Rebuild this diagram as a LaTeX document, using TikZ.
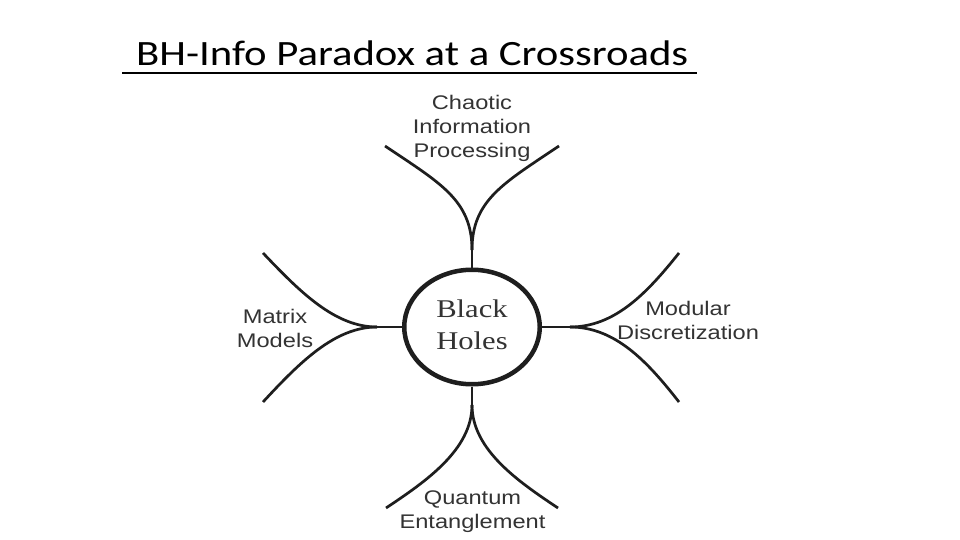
\documentclass[tikz,border=0pt]{standalone}
\usepackage{fontspec}
\setmainfont{Liberation Sans}
\newfontfamily\titlefont{Carlito}
\newfontfamily\serifbh{Liberation Serif}
\usetikzlibrary{shapes.geometric}
\definecolor{inkline}{HTML}{1E1E1E}
\definecolor{inktext}{HTML}{333333}
\newcommand{\branchlabel}[1]{\scalebox{1.2}[1]{\fontsize{19.7}{24}\selectfont\begin{tabular}{@{}c@{}}#1\end{tabular}}}
\tikzset{
  branch/.style={draw=inkline, line width=2.7pt},
  lbl/.style={inner sep=0pt, text=inktext, anchor=north},
  hub/.style={ellipse, draw=inkline, line width=4.5pt, minimum width=135.5pt, minimum height=114.5pt, inner sep=0pt, text=inktext}
}
\begin{document}
\begin{tikzpicture}[x=1pt,y=-1pt]
\useasboundingbox[fill=white] (0,0) rectangle (960,540);
% title
\node[inner sep=0pt, anchor=base west] (title) at (136,65.5) {\scalebox{1.2}[1]{\titlefont\fontsize{35.6}{42}\selectfont BH-Info Paradox at a Crossroads}};
\coordinate (ulA) at (122,73);
\coordinate (ulB) at (697,73);
\draw[line width=2.7pt] (ulA) -- (ulB);
% hub
\node[hub] (bh) at (472,327) {\raisebox{2.6pt}{\scalebox{1.2}[1]{\serifbh\fontsize{25.5}{32}\selectfont\begin{tabular}{@{}c@{}}Black\\Holes\end{tabular}}}};
% fork points and ends
\coordinate (ft) at (472,250);
\coordinate (tl) at (385,146);
\coordinate (tr) at (559,146);
\coordinate (fb) at (472,405);
\coordinate (bl) at (386,508);
\coordinate (br) at (558,508);
\coordinate (fl) at (377,327);
\coordinate (lu) at (263,253);
\coordinate (ld) at (263,402);
\coordinate (fr) at (570,327);
\coordinate (ru) at (679,253);
\coordinate (rd) at (679,402);
% top branch
\draw[branch] (bh.north) -- (ft);
\draw[branch] (ft) .. controls (472,200) and (440,183) .. (tl);
\draw[branch] (ft) .. controls (472,200) and (504,183) .. (tr);
% bottom branch
\draw[branch] (bh.south) -- (fb);
\draw[branch] (fb) .. controls (472,450) and (425,482) .. (bl);
\draw[branch] (fb) .. controls (472,450) and (519,482) .. (br);
% left branch
\draw[branch] (bh.west) -- (fl);
\draw[branch] (fl) .. controls (335,327) and (300,292) .. (lu);
\draw[branch] (fl) .. controls (335,327) and (300,362) .. (ld);
% right branch
\draw[branch] (bh.east) -- (fr);
\draw[branch] (fr) .. controls (615,327) and (647,293) .. (ru);
\draw[branch] (fr) .. controls (615,327) and (647,361) .. (rd);
% labels
\node[lbl] (chaos) at (472,93) {\branchlabel{Chaotic\\Information\\Processing}};
\node[lbl] (matrix) at (275,306) {\branchlabel{Matrix\\Models}};
\node[lbl] (modular) at (688,298) {\branchlabel{Modular\\Discretization}};
\node[lbl] (quantum) at (472.5,487) {\branchlabel{Quantum\\Entanglement}};
\end{tikzpicture}
\end{document}
